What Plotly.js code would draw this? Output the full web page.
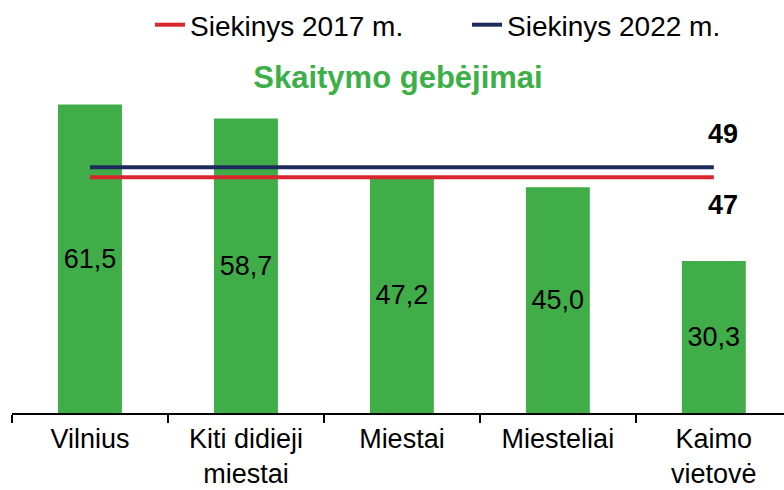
<!DOCTYPE html>
<html>
<head>
<meta charset="utf-8">
<script src="https://cdn.plot.ly/plotly-3.0.1.min.js"></script>
<style>html,body{margin:0;padding:0;background:#fff}#chart{width:784px;height:490px}</style>
</head>
<body>
<div id="chart"></div>
<script>
const categories = ["Vilnius", "Kiti didieji<br>miestai", "Miestai", "Miesteliai", "Kaimo<br>vietovė"];
const values = [61.5, 58.7, 47.2, 45.0, 30.3];
const target2017 = 47;
const target2022 = 49;
const seriesNames = ["Siekinys 2017 m.", "Siekinys 2022 m."];
const chartTitle = "Skaitymo gebėjimai";

const FONT = "Liberation Sans, Arial, sans-serif";
const idx = categories.map((c, i) => i);
const fmt = v => v.toFixed(1).replace('.', ',');

const traces = [
  {
    type: 'bar', x: idx, y: values, width: 0.41,
    marker: {color: '#41AD49'},
    text: values.map(fmt), textposition: 'inside', insidetextanchor: 'middle',
    constraintext: 'none',
    textfont: {family: FONT, size: 27, color: '#000'},
    showlegend: false, hoverinfo: 'skip'
  },
  {
    type: 'scatter', mode: 'lines', x: [idx[0], idx[idx.length-1]], y: [target2017, target2017],
    name: seriesNames[0], line: {color: '#D9262E', width: 4}
  },
  {
    type: 'scatter', mode: 'lines', x: [idx[0], idx[idx.length-1]], y: [target2022, target2022],
    name: seriesNames[1], line: {color: '#1F2A5C', width: 4}
  }
];

const layout = {
  width: 784, height: 490,
  margin: {l: 12, r: 0, t: 92, b: 77},
  paper_bgcolor: '#fff', plot_bgcolor: '#fff',
  font: {family: FONT, size: 27, color: '#000'},
  title: {text: chartTitle, font: {family: FONT, size: 31, color: '#3DAF48', weight: 'bold'},
          x: 0.5, xref: 'paper', y: 1 - 77/490, yref: 'container', yanchor: 'middle'},
  showlegend: true,
  legend: {orientation: 'h', x: 1, xanchor: 'right', y: 1, yref: 'container', yanchor: 'top',
           font: {family: FONT, size: 28, color: '#000'}, entrywidth: 272, entrywidthmode: 'pixels',
           bgcolor: 'rgba(0,0,0,0)'},
  xaxis: {
    type: 'linear', range: [-0.5, 4.45], tickvals: idx, ticktext: categories,
    ticks: '', showgrid: false, zeroline: false, showline: true, linecolor: '#000', linewidth: 1.5,
    tickfont: {family: FONT, size: 27, color: '#000'}, ticklabelstandoff: 1,
    minor: {tickvals: [-0.5, 0.5, 1.5, 2.5, 3.5], ticks: 'outside', ticklen: 8, tickcolor: '#000', tickwidth: 1.5, showgrid: false}
  },
  yaxis: {range: [0, 64], visible: false, showgrid: false, zeroline: false},
  annotations: [
    {x: idx[idx.length-1], y: target2022, xref: 'x', yref: 'y', text: String(target2022), showarrow: false,
     xshift: 9, yshift: 33, font: {family: FONT, size: 27, color: '#000', weight: 'bold'}},
    {x: idx[idx.length-1], y: target2017, xref: 'x', yref: 'y', text: String(target2017), showarrow: false,
     xshift: 9, yshift: -28, font: {family: FONT, size: 27, color: '#000', weight: 'bold'}}
  ]
};

Plotly.newPlot('chart', traces, layout, {displayModeBar: false, staticPlot: true});
</script>
</body>
</html>
